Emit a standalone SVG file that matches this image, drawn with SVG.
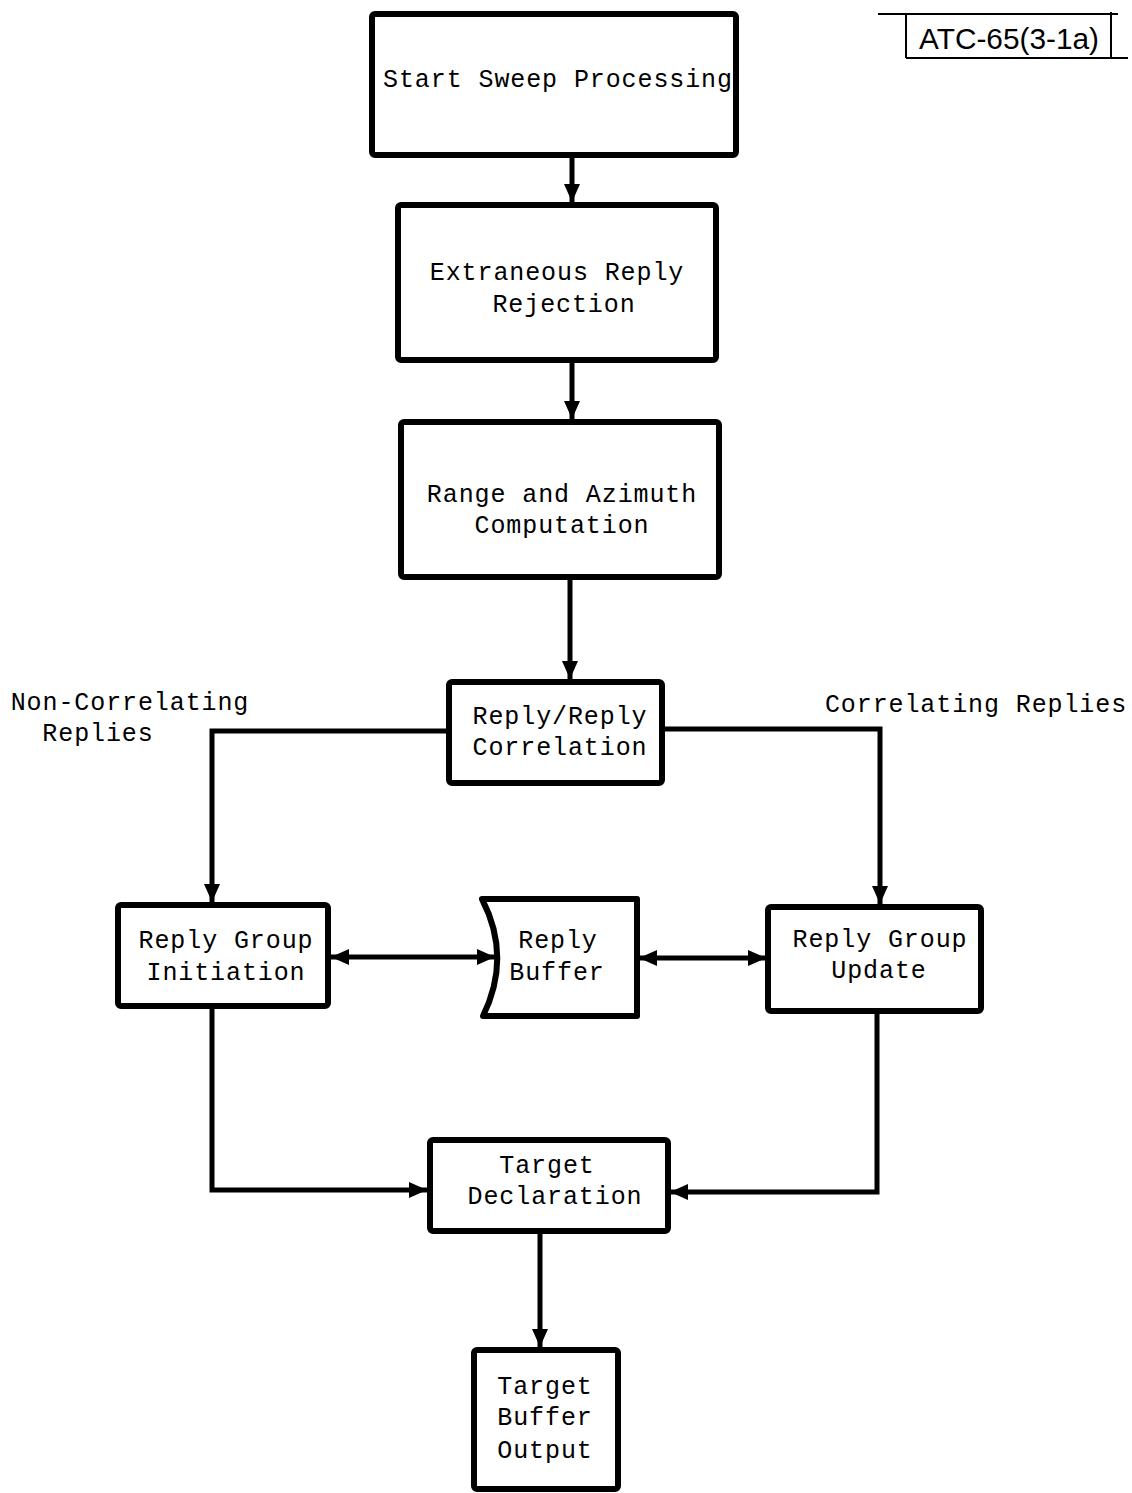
<svg xmlns="http://www.w3.org/2000/svg" width="1132" height="1493" viewBox="0 0 1132 1493">
<style>
.box{fill:#fff;stroke:#000;stroke-width:6;stroke-linejoin:round}
.t{font-family:"Liberation Mono","DejaVu Sans Mono",monospace;font-size:25px;letter-spacing:0.9px;fill:#000;text-anchor:middle}
.c{fill:none;stroke:#000;stroke-width:5}
</style>
<defs>
<marker id="ah" markerUnits="userSpaceOnUse" markerWidth="20" markerHeight="20" viewBox="0 0 20 20" refX="18" refY="10" orient="auto-start-reverse">
<path d="M0,2 L18,10 L0,18 Z" fill="#000"/>
</marker>
</defs>
<rect width="1132" height="1493" fill="#fff"/>
<g id="connectors">
<path class="c" d="M572,157 V202" marker-end="url(#ah)"/>
<path class="c" d="M572,362 V419" marker-end="url(#ah)"/>
<path class="c" d="M570,580 V679" marker-end="url(#ah)"/>
<path class="c" d="M449,731 H212 V902" marker-end="url(#ah)"/>
<path class="c" d="M662,729 H880 V904" marker-end="url(#ah)"/>
<path class="c" d="M331,957 H495" marker-start="url(#ah)" marker-end="url(#ah)"/>
<path class="c" d="M639,958 H766" marker-start="url(#ah)" marker-end="url(#ah)"/>
<path class="c" d="M212,1008 V1190 H427" marker-end="url(#ah)"/>
<path class="c" d="M877,1014 V1192 H670" marker-end="url(#ah)"/>
<path class="c" d="M540,1234 V1347" marker-end="url(#ah)"/>
</g>
<g id="start">
<rect class="box" x="372" y="14" width="364" height="141" rx="3"/>
<text class="t" x="558" y="87">Start Sweep Processing</text>
</g>
<g id="extraneous">
<rect class="box" x="398" y="205" width="318" height="155" rx="3"/>
<text class="t" x="557" y="280">Extraneous Reply</text>
<text class="t" x="564" y="312">Rejection</text>
</g>
<g id="range">
<rect class="box" x="401" y="422" width="318" height="155" rx="3"/>
<text class="t" x="562" y="502">Range and Azimuth</text>
<text class="t" x="562" y="533">Computation</text>
</g>
<g id="correlation">
<rect class="box" x="449" y="682" width="213" height="101" rx="3"/>
<text class="t" x="560" y="724">Reply/Reply</text>
<text class="t" x="560" y="755">Correlation</text>
</g>
<g id="initiation">
<rect class="box" x="118" y="905" width="210" height="101" rx="3"/>
<text class="t" x="226" y="948">Reply Group</text>
<text class="t" x="226" y="980">Initiation</text>
</g>
<g id="buffer">
<path class="box" d="M482,899 H637 V1016 H483 Q512,957 482,899 Z"/>
<text class="t" x="558" y="948">Reply</text>
<text class="t" x="557" y="980">Buffer</text>
</g>
<g id="update">
<rect class="box" x="768" y="907" width="213" height="104" rx="3"/>
<text class="t" x="880" y="947">Reply Group</text>
<text class="t" x="879" y="978">Update</text>
</g>
<g id="declaration">
<rect class="box" x="430" y="1140" width="238" height="91" rx="3"/>
<text class="t" x="547" y="1173">Target</text>
<text class="t" x="555" y="1204">Declaration</text>
</g>
<g id="output">
<rect class="box" x="474" y="1350" width="144" height="139" rx="3"/>
<text class="t" x="545" y="1394">Target</text>
<text class="t" x="545" y="1425">Buffer</text>
<text class="t" x="545" y="1458">Output</text>
</g>
<g id="labels">
<text class="t" x="130" y="710">Non-Correlating</text>
<text class="t" x="98" y="741">Replies</text>
<text class="t" x="976" y="712">Correlating Replies</text>
</g>
<g id="tag">
<path d="M878,14 H1118 M906,14 V58 M906,58 H1128 M1111,12 V58" fill="none" stroke="#000" stroke-width="2"/>
<text x="1009" y="49" font-family="'Liberation Sans Narrow','Liberation Sans',Arial,sans-serif" font-size="29" text-anchor="middle" textLength="180" lengthAdjust="spacingAndGlyphs">ATC-65(3-1a)</text>
</g>
</svg>
